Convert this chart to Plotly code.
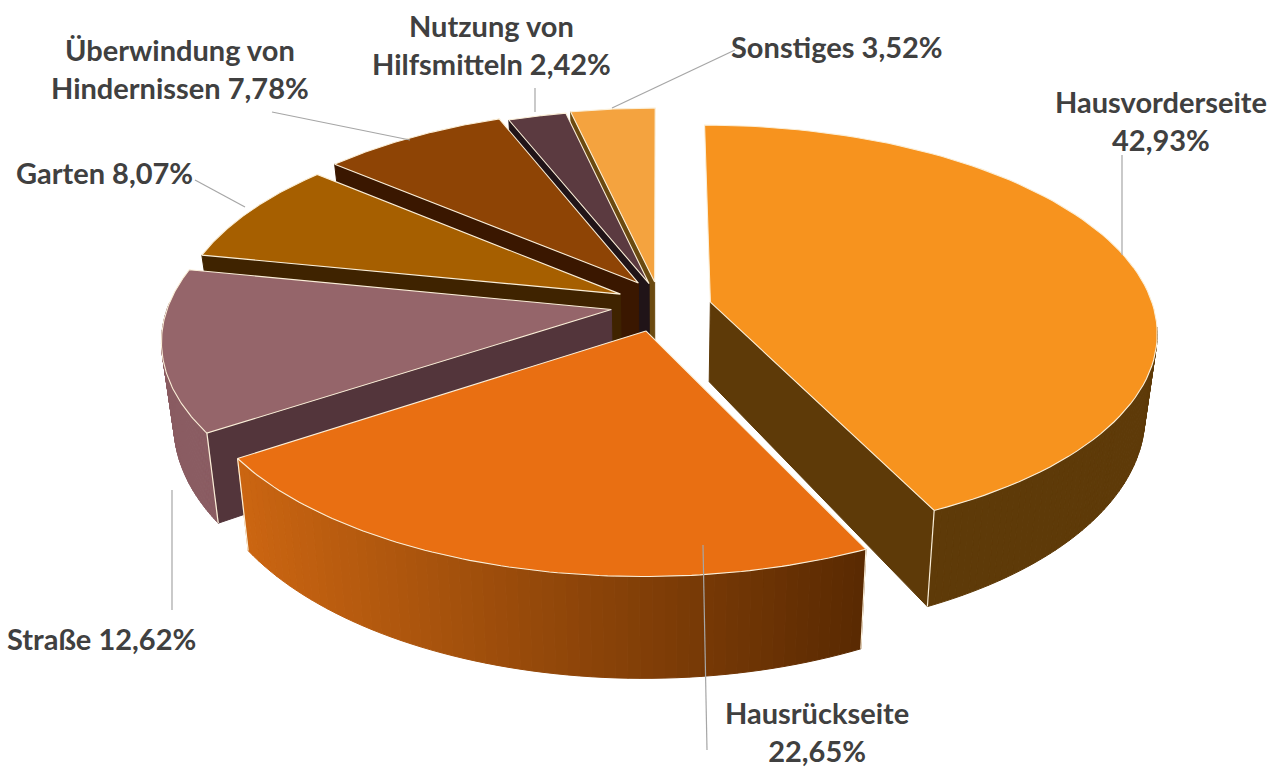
import numpy as np
import plotly.graph_objects as go

# --- data ---
labels = ["Hausvorderseite", "Hausrückseite", "Straße", "Garten",
          "Überwindung von", "Nutzung von", "Sonstiges"]
label_tail = ["", "", "", "", "Hindernissen ", "Hilfsmitteln ", ""]
values = [42.93, 22.65, 12.62, 8.07, 7.78, 2.42, 3.52]

# --- styles ---
top_colors = ["#F7931E", "#E96F12", "#95656A", "#A65F00", "#8E4405", "#5B3A40", "#F4A33F"]
cut_colors = ["#5E3A08", "#5C2A02", "#53353B", "#3F2300", "#3A1700", "#201418", "#6B4A10"]
outer_colors = [("#5E3A08", "#5E3A08"), ("#CC6612", "#5A2A02"), ("#8A5C62", "#8A5C62"),
                ("#7A4600", "#7A4600"), ("#6A3303", "#6A3303"), ("#44292F", "#44292F"), ("#B87A30", "#B87A30")]
explode = [0.11, 0.135, 0.115, 0.10, 0.085, 0.085, 0.09]
nudge_x = [3, 2, 1.5, 0, 0, 0, -1]
nudge_y = [5, 2, 3, 1, -5, -2, -2]
draw_order = [6, 5, 4, 3, 2, 0, 1]

CX, CY, RX, RY, K, H, SHRINK = 660, 302, 443, 203, 0.14, 80, 0.975


def project(u, v, bottom=False, nx=0, ny=0):
    u = np.asarray(u, float); v = np.asarray(v, float)
    s = 1 / (1 + K * v)
    x = CX + RX * u * s
    y = CY - RY * v * s
    if bottom:
        x = CX + (x - CX) * SHRINK
        y = y + H * s ** 1.4
    return x + nx, y + ny


def hex2rgb(c):
    return np.array([int(c[i:i + 2], 16) for i in (1, 3, 5)], float)


def mix(c1, c2, t):
    r = hex2rgb(c1) * (1 - t) + hex2rgb(c2) * t
    return "rgb(%d,%d,%d)" % tuple(r)


fig = go.Figure()


def poly(x, y, fill, line=None, width=1):
    fig.add_trace(go.Scatter(x=list(x), y=list(y), mode="lines", fill="toself", fillcolor=fill,
                             line=dict(color=line or fill, width=width), hoverinfo="skip", showlegend=False))


angles = 360 * np.cumsum([0] + values) / sum(values)
EDGE = "#FBEFD8"
for i in draw_order:
    a0, a1 = angles[i], angles[i + 1]
    mid = np.radians((a0 + a1) / 2)
    ou, ov = explode[i] * np.sin(mid), explode[i] * np.cos(mid)
    nudge = dict(nx=nudge_x[i], ny=nudge_y[i])

    def rim(deg):
        t = np.radians(deg)
        return ou + np.sin(t), ov + np.cos(t)

    def wall(deg):
        eu, ev = rim(deg)
        xt, yt = project([ou, eu], [ov, ev], **nudge)
        xb, yb = project([eu, ou], [ev, ov], bottom=True, **nudge)
        poly(np.r_[xt, xb, xt[0]], np.r_[yt, yb, yt[0]], cut_colors[i])

    # cut faces that look toward the viewer
    if a1 < 180:
        wall(a1)
    if a0 > 180:
        wall(a0)
    # outer rim wall, strip by strip so the shade can run along it
    lo, hi = max(a0, 97), min(a1, 272)
    if hi > lo:
        edges = np.linspace(lo, hi, 61)
        c1, c2 = outer_colors[i]
        x_min, x_max = project(*rim(hi))[0], project(*rim(lo))[0]
        for d0, d1 in zip(edges[:-1], edges[1:]):
            ds = np.linspace(d0, d1, 3)
            u, v = rim(ds)
            xt, yt = project(u, v, **nudge)
            xb, yb = project(u[::-1], v[::-1], bottom=True, **nudge)
            t = float(np.clip((xt.mean() - x_min) / (x_max - x_min), 0, 1))
            poly(np.r_[xt, xb, xt[0]], np.r_[yt, yb, yt[0]], mix(c1, c2, t))
    # white seams on the front corners
    for d in (a0, a1):
        if 97 < d < 272:
            u, v = rim(d)
            xt, yt = project(u, v, **nudge)
            xb, yb = project(u, v, bottom=True, **nudge)
            fig.add_trace(go.Scatter(x=[xt, xb], y=[yt, yb], mode="lines", line=dict(color=EDGE, width=1.2),
                                     hoverinfo="skip", showlegend=False))
    # top face
    ds = np.linspace(a0, a1, 90)
    u, v = rim(ds)
    x, y = project(np.r_[ou, u, ou], np.r_[ov, v, ov], **nudge)
    poly(x, y, top_colors[i], line=EDGE, width=1.1)

# --- leader lines (x list, y list in picture pixels) ---
leaders = [([1122, 1122], [155, 255]), ([707, 703], [750, 545]), ([172, 172], [610, 490]),
           ([195, 245], [180, 207]), ([272, 410], [112, 140]), ([535, 535], [88, 112]), ([735, 612], [50, 108])]
for lx, ly in leaders:
    fig.add_trace(go.Scatter(x=lx, y=ly, mode="lines", line=dict(color="#A6A6A6", width=1.2),
                             hoverinfo="skip", showlegend=False))

# --- labels ---
pct = ["%.2f%%" % v for v in values]
pct = [p.replace(".", ",") for p in pct]
texts = [labels[0] + "<br>" + pct[0], labels[1] + "<br>" + pct[1], labels[2] + " " + pct[2],
         labels[3] + " " + pct[3], labels[4] + "<br>" + label_tail[4] + pct[4],
         labels[5] + "<br>" + label_tail[5] + pct[5], labels[6] + " " + pct[6]]
text_pos = [(1161, 120), (817, 731), (101, 638), (104, 172), (180, 68), (491, 44), (837, 46)]
annotations = [dict(x=p[0], y=p[1], text="<b>%s</b>" % t, showarrow=False, xanchor="center", yanchor="middle",
                    font=dict(family="Lato", size=29, color="#404040"))
               for t, p in zip(texts, text_pos)]

fig.update_layout(
    width=1275, height=767, margin=dict(l=0, r=0, t=0, b=0),
    paper_bgcolor="white", plot_bgcolor="white", showlegend=False, annotations=annotations,
    xaxis=dict(range=[0, 1275], visible=False, fixedrange=True),
    yaxis=dict(range=[767, 0], visible=False, fixedrange=True),
)
fig.write_html("out.html", config=dict(displayModeBar=False),
               post_script="document.body.style.margin='0';document.body.style.overflow='hidden';")
